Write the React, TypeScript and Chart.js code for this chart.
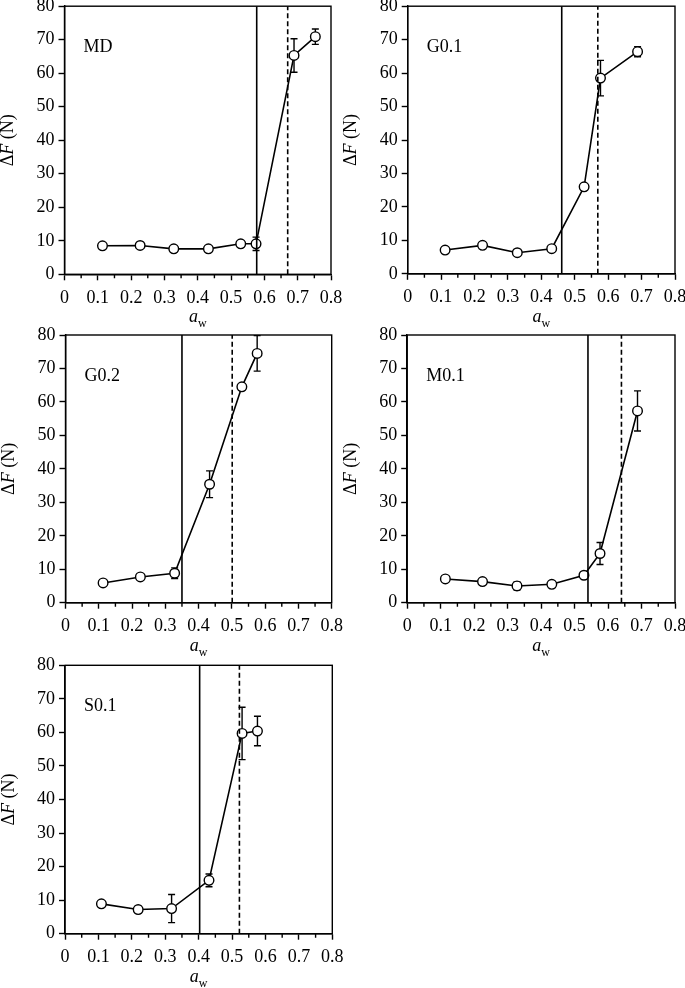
import React, { useEffect, useRef } from 'react';
import { Chart, registerables } from 'chart.js';

Chart.register(...registerables);

const FONT = '"Liberation Serif", "Times New Roman", serif';

// Axis ticks
const xMajorTicks = [0, 0.1, 0.2, 0.3, 0.4, 0.5, 0.6, 0.7, 0.8];
const xMinorTicks = [0.05, 0.15, 0.25, 0.35, 0.45, 0.55, 0.65, 0.75];
const xTickLabels = ['0', '0.1', '0.2', '0.3', '0.4', '0.5', '0.6', '0.7', '0.8'];
const yTicks = [0, 10, 20, 30, 40, 50, 60, 70, 80];
const yTickLabels = ['0', '10', '20', '30', '40', '50', '60', '70', '80'];

// MD
const mdAw = [0.114, 0.227, 0.328, 0.432, 0.529, 0.575, 0.689, 0.753];
const mdDF = [8.5, 8.6, 7.6, 7.6, 9.1, 9.1, 65.3, 70.9];
const mdErr = [0, 0, 0, 0, 0, 2.0, 5.0, 2.3];
const mdLines = [0.577, 0.670];

// G0.1
const g01Aw = [0.112, 0.224, 0.328, 0.431, 0.528, 0.577, 0.688];
const g01DF = [7.1, 8.5, 6.3, 7.5, 26.0, 58.5, 66.4];
const g01Err = [0, 0, 0, 0, 0, 5.3, 1.5];
const g01Lines = [0.461, 0.569];

// G0.2
const g02Aw = [0.113, 0.225, 0.328, 0.433, 0.530, 0.576];
const g02DF = [5.9, 7.7, 8.8, 35.4, 64.5, 74.5];
const g02Err = [0, 0, 1.6, 4.0, 0, 5.3];
const g02Lines = [0.350, 0.501];

// M0.1
const m01Aw = [0.114, 0.225, 0.328, 0.432, 0.528, 0.576, 0.688];
const m01DF = [7.1, 6.3, 5.0, 5.5, 8.2, 14.7, 57.3];
const m01Err = [0, 0, 1.2, 0, 0, 3.3, 6.0];
const m01Lines = [0.540, 0.640];

// S0.1
const s01Aw = [0.109, 0.219, 0.319, 0.431, 0.530, 0.576];
const s01DF = [8.9, 7.2, 7.5, 15.9, 59.7, 60.4];
const s01Err = [0, 1.0, 4.2, 1.9, 7.8, 4.4];
const s01Lines = [0.403, 0.522];

type Rect = { left: number; top: number; w: number; h: number };
type Plot = { left: number; top: number; right: number; bottom: number };

interface PanelProps {
  label: string;
  aw: number[];
  df: number[];
  err: number[];
  lines: number[];
  box: Rect;
  plot: Plot;
}

function Panel({ label, aw, df, err, lines, box, plot }: PanelProps) {
  const ref = useRef<HTMLCanvasElement>(null);

  useEffect(() => {
    const canvas = ref.current;
    if (!canvas) return;
    const padTop = plot.top - box.top;
    const padRight = box.left + box.w - plot.right;
    const yW = plot.left - box.left;
    const xH = box.top + box.h - plot.bottom;

    const points = aw.map((x, i) => ({ x, y: df[i] }));

    const errPlugin = {
      id: 'errbars',
      beforeDatasetsDraw(chart: any) {
        const { ctx } = chart;
        const xs = chart.scales.x;
        const ys = chart.scales.y;
        ctx.save();
        ctx.strokeStyle = '#000';
        ctx.lineWidth = 1.4;
        aw.forEach((v, i) => {
          const e = err[i];
          if (!e) return;
          const px = xs.getPixelForValue(v);
          const y1 = ys.getPixelForValue(df[i] + e);
          const y2 = ys.getPixelForValue(df[i] - e);
          ctx.beginPath();
          ctx.moveTo(px, y1);
          ctx.lineTo(px, y2);
          ctx.moveTo(px - 3.5, y1);
          ctx.lineTo(px + 3.5, y1);
          ctx.moveTo(px - 3.5, y2);
          ctx.lineTo(px + 3.5, y2);
          ctx.stroke();
        });
        ctx.restore();
      },
    };

    const decoPlugin = {
      id: 'deco',
      afterDraw(chart: any) {
        const { ctx, chartArea: a } = chart;
        const xs = chart.scales.x;
        ctx.save();
        ctx.strokeStyle = '#000';
        ctx.lineWidth = 1.4;
        ctx.strokeRect(a.left, a.top, a.right - a.left, a.bottom - a.top);
        ctx.beginPath();
        xMinorTicks.forEach((v) => {
          const px = xs.getPixelForValue(v);
          ctx.moveTo(px, a.bottom);
          ctx.lineTo(px, a.bottom + 4);
        });
        ctx.stroke();

        ctx.fillStyle = '#000';
        // panel label
        ctx.font = `18px ${FONT}`;
        ctx.textAlign = 'left';
        ctx.textBaseline = 'middle';
        ctx.fillText(label, a.left + 19, a.top + 41);

        // x title: italic a with subscript w
        ctx.textBaseline = 'alphabetic';
        ctx.font = `italic 18px ${FONT}`;
        const wa = ctx.measureText('a').width;
        ctx.font = `12px ${FONT}`;
        const ww = ctx.measureText('w').width;
        const cx = (a.left + a.right) / 2;
        const sx = cx - (wa + ww) / 2;
        const base = a.bottom + 48;
        ctx.font = `italic 18px ${FONT}`;
        ctx.fillText('a', sx, base);
        ctx.font = `12px ${FONT}`;
        ctx.fillText('w', sx + wa, base + 5);

        // y title: ΔF (N)
        ctx.translate(a.left - 56, (a.top + a.bottom) / 2);
        ctx.rotate(-Math.PI / 2);
        ctx.textBaseline = 'middle';
        const parts: [string, string][] = [
          ['Δ', `18px ${FONT}`],
          ['F', `italic 18px ${FONT}`],
          [' (N)', `18px ${FONT}`],
        ];
        let total = 0;
        const widths = parts.map(([t, f]) => {
          ctx.font = f;
          const w = ctx.measureText(t).width;
          total += w;
          return w;
        });
        let px = -total / 2;
        parts.forEach(([t, f], i) => {
          ctx.font = f;
          ctx.fillText(t, px, 0);
          px += widths[i];
        });
        ctx.restore();
      },
    };

    const chart = new Chart(canvas, {
      type: 'scatter',
      data: {
        datasets: [
          {
            data: [{ x: lines[0], y: 0 }, { x: lines[0], y: 80 }],
            showLine: true,
            borderColor: '#000',
            borderWidth: 1.6,
            pointRadius: 0,
            order: 0,
          },
          {
            data: [{ x: lines[1], y: 0 }, { x: lines[1], y: 80 }],
            showLine: true,
            borderColor: '#000',
            borderWidth: 1.6,
            borderDash: [5, 3],
            pointRadius: 0,
            order: 0,
          },
          {
            data: points,
            showLine: true,
            borderColor: '#000',
            borderWidth: 1.6,
            pointRadius: 4.8,
            pointBackgroundColor: '#fff',
            pointBorderColor: '#000',
            pointBorderWidth: 1.4,
            tension: 0,
            order: 1,
          },
        ],
      } as any,
      options: {
        animation: false,
        responsive: false,
        maintainAspectRatio: false,
        events: [],
        layout: { padding: { top: padTop, right: padRight, left: 0, bottom: 0 } },
        plugins: {
          legend: { display: false },
          tooltip: { enabled: false },
          title: { display: false },
        },
        scales: {
          x: {
            type: 'linear',
            position: 'bottom',
            min: 0,
            max: 0.8,
            afterBuildTicks: (s: any) => {
              s.ticks = xMajorTicks.map((v) => ({ value: v }));
            },
            afterFit: (s: any) => {
              s.height = xH;
              s.paddingLeft = 0;
              s.paddingRight = 0;
            },
            ticks: {
              autoSkip: false,
              maxRotation: 0,
              minRotation: 0,
              padding: 7,
              color: '#000',
              font: { family: FONT, size: 18 },
              callback: (_v: any, i: number) => xTickLabels[i],
            },
            grid: {
              drawOnChartArea: false,
              drawTicks: true,
              tickLength: 6,
              tickColor: '#000',
              tickWidth: 1.4,
            },
            border: { display: true, color: '#000', width: 1.4 },
          },
          y: {
            type: 'linear',
            position: 'left',
            min: 0,
            max: 80,
            afterBuildTicks: (s: any) => {
              s.ticks = yTicks.map((v) => ({ value: v }));
            },
            afterFit: (s: any) => {
              s.width = yW;
              s.paddingTop = 0;
              s.paddingBottom = 0;
            },
            ticks: {
              autoSkip: false,
              padding: 4,
              color: '#000',
              font: { family: FONT, size: 18 },
              callback: (_v: any, i: number) => yTickLabels[i],
            },
            grid: {
              drawOnChartArea: false,
              drawTicks: true,
              tickLength: 6,
              tickColor: '#000',
              tickWidth: 1.4,
            },
            border: { display: true, color: '#000', width: 1.4 },
          },
        },
      } as any,
      plugins: [errPlugin, decoPlugin],
    });

    return () => chart.destroy();
  }, [label, aw, df, err, lines, box, plot]);

  return (
    <canvas
      ref={ref}
      width={box.w}
      height={box.h}
      style={{ position: 'absolute', left: box.left, top: box.top, width: box.w, height: box.h }}
    />
  );
}

const panels: PanelProps[] = [
  {
    label: 'MD', aw: mdAw, df: mdDF, err: mdErr, lines: mdLines,
    box: { left: 0, top: 0, w: 350, h: 332 },
    plot: { left: 64.5, top: 6, right: 331, bottom: 274.3 },
  },
  {
    label: 'G0.1', aw: g01Aw, df: g01DF, err: g01Err, lines: g01Lines,
    box: { left: 342, top: 0, w: 343, h: 332 },
    plot: { left: 407.7, top: 6, right: 675, bottom: 273.8 },
  },
  {
    label: 'G0.2', aw: g02Aw, df: g02DF, err: g02Err, lines: g02Lines,
    box: { left: 0, top: 322, w: 350, h: 336 },
    plot: { left: 65.5, top: 335, right: 331.7, bottom: 602.7 },
  },
  {
    label: 'M0.1', aw: m01Aw, df: m01DF, err: m01Err, lines: m01Lines,
    box: { left: 342, top: 322, w: 343, h: 336 },
    plot: { left: 407.2, top: 335, right: 675, bottom: 602.7 },
  },
  {
    label: 'S0.1', aw: s01Aw, df: s01DF, err: s01Err, lines: s01Lines,
    box: { left: 0, top: 652, w: 350, h: 336 },
    plot: { left: 65, top: 665.3, right: 332.3, bottom: 933.7 },
  },
];

export default function App() {
  return (
    <div style={{ position: 'absolute', left: 0, top: 0, width: 685, height: 988, background: '#fff' }}>
      {panels.map((p) => (
        <Panel key={p.label} {...p} />
      ))}
    </div>
  );
}
